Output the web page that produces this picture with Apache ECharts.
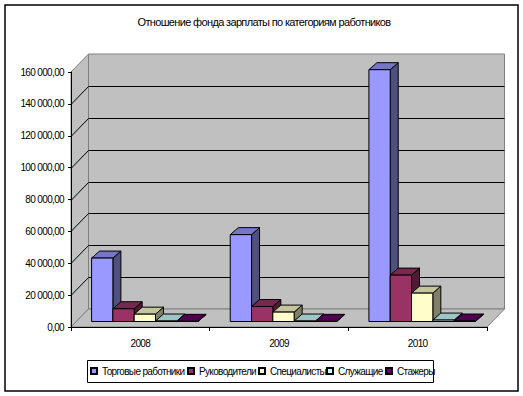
<!DOCTYPE html>
<html>
<head>
<meta charset="utf-8">
<style>
html, body { margin: 0; padding: 0; background: #fff; }
#chart { width: 523px; height: 396px; }
#chart text { letter-spacing: -0.65px; }
</style>
<script src="https://cdn.jsdelivr.net/npm/echarts@6/dist/echarts.min.js"></script>
</head>
<body>
<div id="chart"></div>
<script>
var years = ['2008', '2009', '2010'];
var trade = [39800, 54500, 158000];
var managers = [8000, 9400, 29100];
var specialists = [4600, 5900, 17800];
var clerks = [300, 300, 900];
var interns = [100, 100, 300];
var yMax = 160000;
var yStep = 20000;

var names = ['Торговые работники', 'Руководители', 'Специалисты', 'Служащие', 'Стажеры'];
var values = [trade, managers, specialists, clerks, interns];
var fronts = ['#9999ff', '#993366', '#ffffcc', '#ccffff', '#660066'];
var tops = ['#7676c5', '#76284f', '#c5c59d', '#9dc5c5', '#4f004f'];
var sides = ['#4f4f80', '#4f1a35', '#808066', '#668080', '#330033'];

var font = '"Liberation Sans", Arial, sans-serif';
var wallDepthX = 17.5, wallDepthY = 18;
var barDepthX = 8, barDepthY = 7;
var barShiftX = 4.5, barShiftY = 5.5;
var barWidth = 21.3;
var legendLefts = [90, 187, 258, 326, 385];

function fmt(v) {
  var s = String(v).replace(/\B(?=(\d{3})+$)/g, ' ');
  return s + ',00';
}

function poly(points, fill) {
  return {
    type: 'polygon',
    shape: { points: points },
    style: { fill: fill, stroke: '#000', lineWidth: 1 }
  };
}

// back wall, side wall, floor and the grid lines running over them
function renderWalls(params, api) {
  var c = params.coordSys;
  var dx = wallDepthX, dy = wallDepthY;
  var l = c.x, r = c.x + c.width, t = c.y, b = c.y + c.height;
  var kids = [];
  var wall = { fill: '#c0c0c0', stroke: '#808080', lineWidth: 1 };
  kids.push({ type: 'polygon', shape: { points: [[l + dx, t - dy], [r + dx, t - dy], [r + dx, b - dy], [l + dx, b - dy]] }, style: wall });
  kids.push({ type: 'polygon', shape: { points: [[l, t], [l + dx, t - dy], [l + dx, b - dy], [l, b]] }, style: wall });
  kids.push({ type: 'polygon', shape: { points: [[l, b], [l + dx, b - dy], [r + dx, b - dy], [r, b]] }, style: wall });
  for (var v = yStep; v < yMax; v += yStep) {
    var y = Math.round(api.coord([0, v])[1]) + 0.5;
    kids.push({
      type: 'polyline',
      shape: { points: [[l, y], [l + dx, y - dy], [r + dx, y - dy]] },
      style: { fill: null, stroke: '#000', lineWidth: 1 }
    });
  }
  return { type: 'group', children: kids };
}

function renderBar(s) {
  return function (params, api) {
    var band = api.size([1, 0])[0];
    var base = api.coord([api.value(0), 0]);
    var top = api.coord([api.value(0), api.value(1)]);
    var gap = (band - barWidth * names.length) / 2;
    var x0 = base[0] - band / 2 + gap + barShiftX + s * barWidth;
    var x1 = x0 + barWidth;
    var y0 = base[1] - barShiftY;
    var y1 = top[1] - barShiftY;
    var dx = barDepthX, dy = barDepthY;
    return {
      type: 'group',
      children: [
        poly([[x1, y1], [x1 + dx, y1 - dy], [x1 + dx, y0 - dy], [x1, y0]], sides[s]),
        poly([[x0, y1], [x0 + dx, y1 - dy], [x1 + dx, y1 - dy], [x1, y1]], tops[s]),
        poly([[x0, y1], [x1, y1], [x1, y0], [x0, y0]], fronts[s])
      ]
    };
  };
}

var series = [{
  type: 'custom',
  silent: true,
  clip: false,
  z: 1,
  renderItem: renderWalls,
  data: [[0, 0]],
  encode: { x: 0, y: 1 }
}];
names.forEach(function (name, s) {
  series.push({
    name: name,
    type: 'custom',
    clip: false,
    z: 3,
    itemStyle: { color: fronts[s], borderColor: '#000', borderWidth: 1 },
    renderItem: renderBar(s),
    data: values[s].map(function (v, i) { return [i, v]; }),
    encode: { x: 0, y: 1 }
  });
});

// one legend per name so each entry can sit where the reference has it
var legends = names.map(function (name, s) {
  return {
    data: [name],
    left: legendLefts[s],
    top: 360,
    icon: 'rect',
    itemWidth: 6,
    itemHeight: 6,
    padding: [6, 0, 5, 0],
    selectedMode: false,
    textStyle: { fontFamily: font, fontSize: 10, color: '#000' }
  };
});

var chart = echarts.init(document.getElementById('chart'), null, { renderer: 'svg' });
chart.setOption({
  animation: false,
  backgroundColor: '#fff',
  title: {
    text: 'Отношение фонда зарплаты по категориям работников',
    left: 259,
    top: 11,
    textAlign: 'center',
    textStyle: { fontFamily: font, fontSize: 11, fontWeight: 'normal', color: '#000' }
  },
  legend: legends,
  grid: { left: 71, right: 36, top: 72, bottom: 69 },
  xAxis: {
    type: 'category',
    data: years,
    boundaryGap: true,
    axisLine: { show: true, lineStyle: { color: '#000' } },
    axisTick: { show: true, length: 4, alignWithLabel: false, lineStyle: { color: '#000' } },
    axisLabel: { fontFamily: font, fontSize: 10, color: '#000', margin: 11 },
    z: 2
  },
  yAxis: {
    type: 'value',
    min: 0,
    max: yMax,
    interval: yStep,
    splitLine: { show: false },
    axisLine: { show: true, lineStyle: { color: '#000' } },
    axisTick: { show: true, length: 3, lineStyle: { color: '#000' } },
    axisLabel: { fontFamily: font, fontSize: 10, color: '#000', margin: 7, formatter: fmt },
    z: 2
  },
  graphic: [{
    type: 'rect',
    silent: true,
    z: 10,
    shape: { x: 5, y: 5, width: 513, height: 386 },
    style: { fill: null, stroke: '#000', lineWidth: 1.5 }
  }, {
    type: 'rect',
    silent: true,
    z: 0,
    shape: { x: 87.5, y: 360.5, width: 346, height: 22 },
    style: { fill: '#fff', stroke: '#000', lineWidth: 1 }
  }],
  series: series
});
</script>
</body>
</html>
